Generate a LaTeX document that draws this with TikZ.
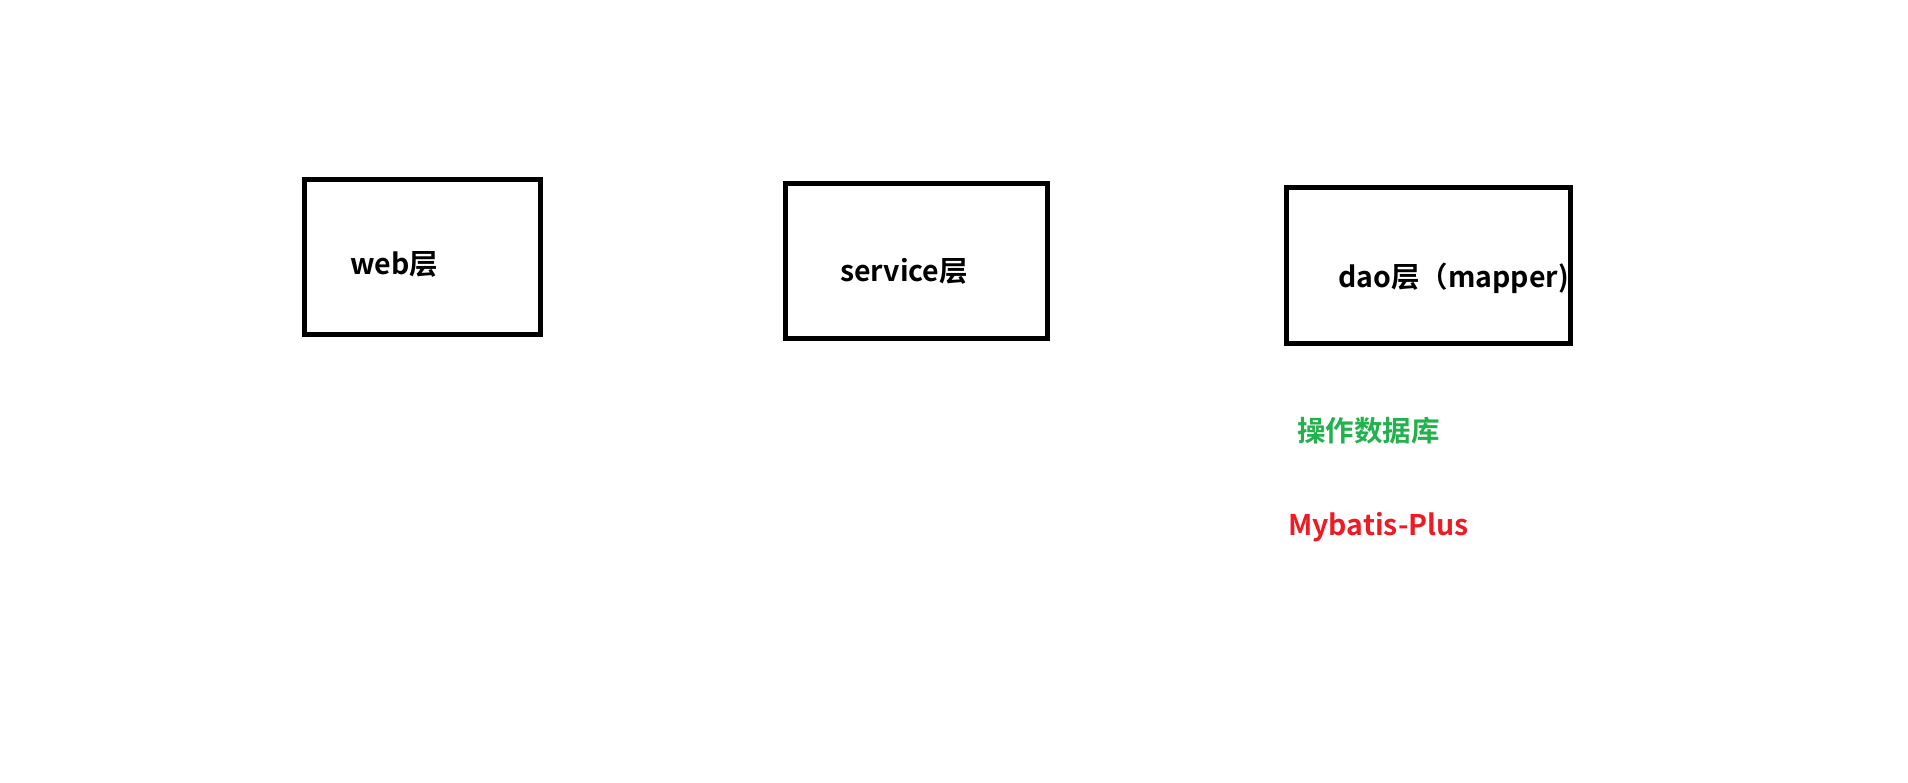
\documentclass[tikz,border=0pt]{standalone}
\usepackage{fontspec}
\setmainfont{Noto Sans CJK SC}[BoldFont={Noto Sans CJK SC Bold}]
\definecolor{pgreen}{HTML}{22B14C}
\definecolor{pred}{HTML}{ED1C24}
\begin{document}
\begin{tikzpicture}[x=1pt,y=-1pt,
  layerbox/.style={draw=black,line width=5pt,inner sep=0pt},
  lbl/.style={anchor=base west,inner sep=0pt,font=\fontsize{28.5}{32}\selectfont\bfseries}]
\useasboundingbox (0,0) rectangle (1908,782);
\node[layerbox,minimum width=235.5pt,minimum height=155pt] (web) at (422.25,257) {};
\node[layerbox,minimum width=261.5pt,minimum height=155pt] (service) at (916.25,261) {};
\node[layerbox,minimum width=283.5pt,minimum height=156pt] (dao) at (1428.25,265.5) {};
\node[lbl] (webt) at (350,274) {web层};
\node[lbl] (servicet) at (840,281) {service层};
\node[lbl] (daot) at (1338,287) {dao层（mapper)};
\node[lbl,text=pgreen] (db) at (1297,441) {操作数据库};
\node[lbl,text=pred] (mp) at (1288,535) {Mybatis-Plus};
\end{tikzpicture}
\end{document}
